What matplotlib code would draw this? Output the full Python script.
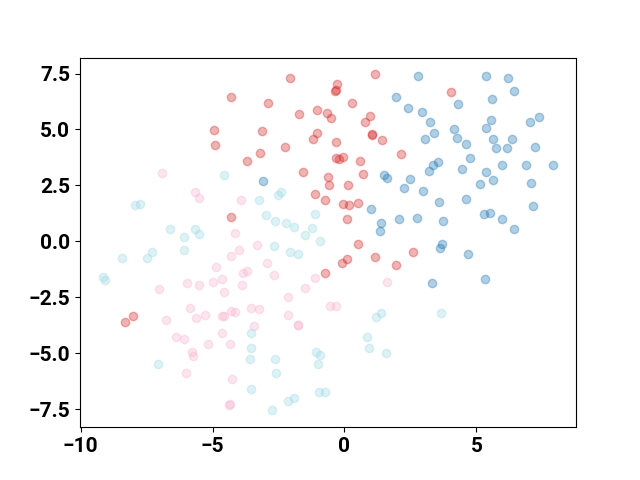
import numpy as np
import matplotlib.pyplot as plt

plt.rcParams['font.family'] = ['Roboto', 'DejaVu Sans']

# cluster 0 (blue)
blue_x = [2.77, 5.38, 6.19, 6.41, 5.59, 4.29, 1.96, 2.42, 2.95, 3.23, 5.57, 5.38, 7.03, 7.39,
          4.14, 3.40, 3.04, 4.25, 4.61, 5.61, 6.36, 5.73, 6.15, 7.21, 4.77, 3.56, 3.36, 3.22,
          4.46, 5.96, 6.89, 7.92, 5.38, 5.13, 5.61, 7.06, 2.50, 1.49, 1.63, -3.08, 2.25, 2.98,
          3.57, 4.59, 5.28, 5.53, 7.16, 2.73, 3.72, 5.96, 6.43, 3.71, 3.61, 4.67, 3.31, 5.31,
          1.02, 1.38, 1.35, 2.06]
blue_y = [7.40, 7.37, 7.31, 6.70, 6.38, 6.15, 6.46, 5.98, 5.80, 5.33, 5.40, 5.08, 5.34, 5.54,
          5.01, 4.83, 4.55, 4.60, 4.34, 4.57, 4.58, 4.17, 4.18, 4.23, 3.71, 3.56, 3.41, 3.16,
          3.23, 3.39, 3.39, 3.39, 3.09, 2.57, 2.72, 2.61, 2.79, 2.96, 2.81, 2.68, 2.38, 2.25,
          1.74, 1.88, 1.21, 1.26, 1.56, 1.03, 0.91, 0.98, 0.55, -0.10, -0.28, -0.55, -1.86, -1.68,
          1.44, 0.80, 0.48, 0.98]

# cluster 1 (red)
red_x = [-4.31, -4.95, -4.89, -3.69, -2.06, 1.17, -0.29, -0.37, -0.31, -2.89, 0.29, -1.72, -1.05,
         -0.67, -0.50, 0.96, 0.77, -3.11, -1.06, -1.20, 1.04, 1.06, 1.41, -0.33, -2.26, -3.22,
         -0.34, -0.20, -0.04, 0.59, 2.15, -1.56, 0.72, -0.63, -0.57, 0.14, 4.05, -1.13, -0.75,
         -0.06, 0.16, 0.52, 0.08, 0.52, 1.16, 2.58, 0.08, -0.09, 1.97, -0.75, -4.31, -8.32, -8.02]
red_y = [6.46, 4.96, 4.29, 3.57, 7.29, 7.46, 7.02, 6.73, 6.75, 6.19, 6.17, 5.67, 5.89,
         5.73, 5.49, 5.61, 5.31, 4.94, 4.82, 4.57, 4.78, 4.75, 4.52, 4.45, 4.21, 3.93,
         3.72, 3.66, 3.75, 3.57, 3.90, 3.09, 2.99, 2.87, 2.51, 2.53, 6.68, 2.10, 1.86,
         1.67, 1.62, 1.73, 1.00, -0.12, -0.70, -0.50, -0.79, -0.98, -1.06, -1.44, 1.10, -3.60, -3.32]

# cluster 2 (pink)
pink_x = [-6.93, -5.67, -5.53, -3.93, -4.16, -4.00, -4.32, -4.88, -3.83, -3.71, -4.65, -5.00, -5.97,
          -5.52, -7.03, -3.89, -4.55, -3.31, -2.92, -2.68, -1.13, 1.60, -1.49, -2.13, -0.54, -0.34,
          -5.84, -6.78, -5.63, -5.27, -4.66, -4.57, -4.31, -4.16, -3.53, -3.23, -2.13, -1.78, -1.77,
          -3.44, -6.39, -6.07, -4.66, -5.18, -4.34, -5.77, -5.76, -6.02, -4.28, -4.38, -4.33]
pink_y = [3.04, 2.19, 1.95, 1.83, 0.37, -0.37, -0.67, -1.13, -1.43, -1.35, -1.67, -1.80, -1.88,
          -1.95, -2.13, -1.95, -2.25, -0.15, -0.95, -1.49, -1.62, -1.82, -2.07, -2.50, -2.89, -2.89,
          -2.98, -3.51, -3.41, -3.29, -3.32, -3.36, -3.11, -3.17, -2.98, -3.02, -3.29, -3.76, -3.74,
          -3.79, -4.30, -4.36, -4.12, -4.58, -4.61, -4.96, -5.15, -5.88, -6.15, -7.31, -7.28]

# cluster 3 (cyan)
cyan_x = [-4.56, -7.93, -7.74, -6.60, -5.67, -5.50, -6.07, -6.09, -7.30, -7.47, -8.44, -9.17, -9.06,
          -3.23, -2.51, -2.41, -2.99, -2.65, -2.23, -1.91, -1.13, -1.25, -1.50, -0.92, -2.66, -2.07,
          -1.75, -3.53, -3.53, -3.57, -7.06, -3.55, 1.38, 1.21, 0.86, 0.91, 1.59, -2.64, -1.09,
          -0.92, -1.00, -2.58, -0.97, -0.75, -2.15, -1.93, -2.73, 3.65]
cyan_y = [2.96, 1.64, 1.68, 0.57, 0.54, 0.34, 0.21, -0.37, -0.46, -0.73, -0.75, -1.61, -1.74,
          1.86, 2.08, 2.20, 1.19, 0.91, 0.83, 0.66, 1.21, 0.59, 0.28, 0.00, -0.19, -0.50,
          -0.55, -4.09, -4.79, -5.27, -5.48, -6.59, -3.20, -3.38, -4.27, -4.75, -4.99, -5.28, -4.96,
          -5.09, -5.48, -5.89, -6.74, -6.74, -7.14, -7.01, -7.56, -3.20]

fig, ax = plt.subplots(figsize=(6.4, 4.8), dpi=100)
ax.scatter(blue_x, blue_y, color='#1f77b4', alpha=0.35)
ax.scatter(red_x, red_y, color='#d62728', alpha=0.35)
ax.scatter(pink_x, pink_y, color='#f7b6d2', alpha=0.35)
ax.scatter(cyan_x, cyan_y, color='#9edae5', alpha=0.35)

ax.set_yticks([-7.5, -5.0, -2.5, 0.0, 2.5, 5.0, 7.5])
ax.tick_params(labelsize=15)
for lbl in ax.get_xticklabels() + ax.get_yticklabels():
    lbl.set_fontweight('bold')

plt.savefig('out.png')
